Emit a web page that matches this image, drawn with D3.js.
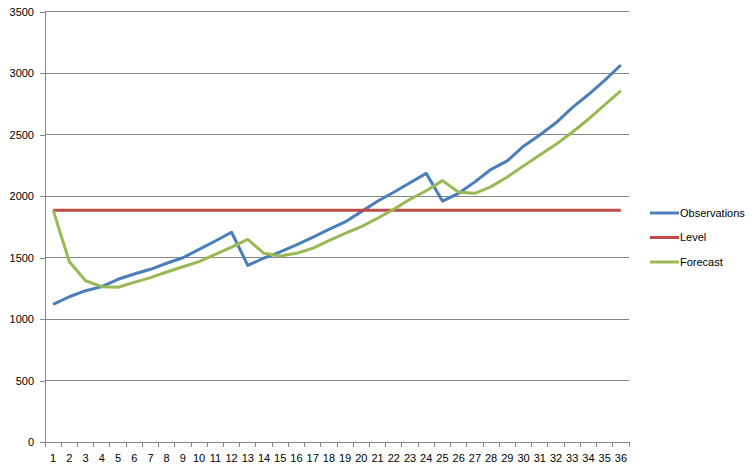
<!DOCTYPE html>
<html><head><meta charset="utf-8">
<script src="https://cdn.jsdelivr.net/npm/d3@7"></script>
<style>body{margin:0;background:#fff}svg{display:block}text{font-family:"Liberation Sans",Arial,sans-serif;font-size:11px;fill:#000}</style>
</head><body>
<script>
const categories = d3.range(1, 37);
const observations = [1119,1181,1230,1263,1323,1366,1404,1453,1498,1566,1634,1705,1436,1496,1545,1602,1664,1729,1789,1873,1957,2030,2108,2184,1959,2022,2115,2217,2286,2405,2496,2595,2718,2825,2940,3065];
const level = categories.map(() => 1885);
const forecast = [1885,1466,1311,1263,1258,1298,1336,1382,1425,1466,1526,1585,1648,1534,1512,1534,1575,1637,1697,1751,1819,1892,1973,2043,2125,2030,2022,2076,2155,2245,2333,2420,2518,2624,2740,2856];
const yTicks = [0,500,1000,1500,2000,2500,3000,3500];
const series = [
  {name:"Observations", values: observations, color:"#4a7ebb"},
  {name:"Level", values: level, color:"#be4b48"},
  {name:"Forecast", values: forecast, color:"#98b954"}
];

const W = 755, H = 473;
const svg = d3.select("body").append("svg").attr("width", W).attr("height", H);
const x = d3.scaleBand().domain(categories).range([45, 629]);
const y = d3.scaleLinear().domain([0, 3500]).range([442, 11.5]);

// gridlines
svg.append("g").selectAll("line").data(yTicks.filter(d => d > 0)).join("line")
  .attr("x1", 45).attr("x2", 629).attr("y1", d => y(d)).attr("y2", d => y(d))
  .attr("stroke", "#868686").attr("stroke-width", 1).attr("shape-rendering", "crispEdges");

// y axis
const ya = svg.append("g").attr("transform", "translate(45,0)")
  .call(d3.axisLeft(y).tickValues(yTicks).tickFormat(d3.format("d")).tickSize(5).tickPadding(6));
ya.select(".domain").attr("stroke", "#868686").attr("shape-rendering", "crispEdges");
ya.selectAll(".tick line").attr("stroke", "#868686").attr("shape-rendering", "crispEdges");
ya.selectAll("text").style("font-size", "11px").attr("fill", "#000");

// x axis
const xa = svg.append("g").attr("transform", "translate(0,442)")
  .call(d3.axisBottom(x).tickSize(0).tickPadding(12));
xa.select(".domain").attr("stroke", "#868686").attr("shape-rendering", "crispEdges");
xa.selectAll("text").style("font-size", "11px").attr("fill", "#000");
svg.append("g").selectAll("line").data(d3.range(0, 37)).join("line")
  .attr("x1", i => 45 + i * x.step()).attr("x2", i => 45 + i * x.step())
  .attr("y1", 442).attr("y2", 447)
  .attr("stroke", "#868686").attr("shape-rendering", "crispEdges");

// lines
const line = d3.line().x((d, i) => x(categories[i]) + x.bandwidth() / 2).y(d => y(d));
svg.append("g").selectAll("path").data(series).join("path")
  .attr("d", s => line(s.values)).attr("fill", "none")
  .attr("stroke", s => s.color).attr("stroke-width", 3).attr("stroke-linejoin", "round");

// legend
const lg = svg.append("g").selectAll("g").data(series).join("g")
  .attr("transform", (d, i) => `translate(650,${213 + i * 24.5})`);
lg.append("line").attr("x1", 0).attr("x2", 29).attr("stroke", d => d.color).attr("stroke-width", 3);
lg.append("text").attr("x", 30).attr("dy", "0.35em").text(d => d.name);
</script>
</body></html>
